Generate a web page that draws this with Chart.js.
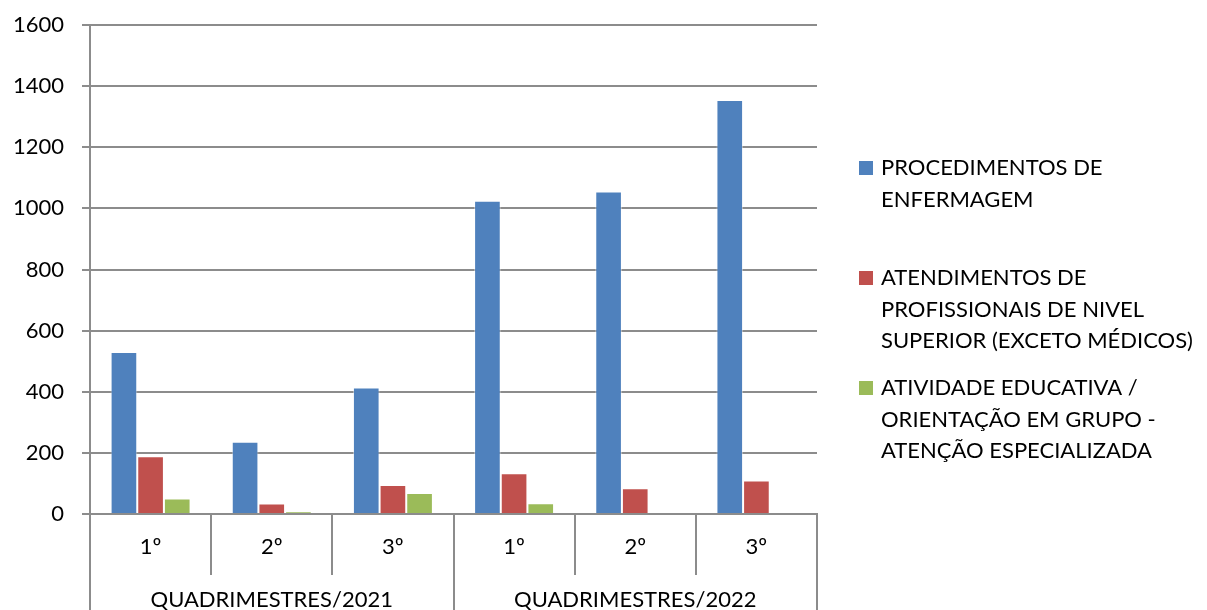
<!DOCTYPE html>
<html>
<head>
<meta charset="utf-8">
<script src="https://cdn.jsdelivr.net/npm/chart.js@4/dist/chart.umd.min.js"></script>
<style>
  html, body { margin: 0; padding: 0; background: #fff; }
  #wrap { width: 1207px; height: 610px; position: relative; }
</style>
</head>
<body>
<div id="wrap"><canvas id="chart"></canvas></div>
<script>
// ===== DATA =====
const quarters = ['1º', '2º', '3º', '1º', '2º', '3º'];
const groups = ['QUADRIMESTRES/2021', 'QUADRIMESTRES/2022'];
const groupSize = 3;

const enfermagem = [530, 236, 414, 1025, 1055, 1355];
const nivelSuperior = [189, 34, 95, 133, 84, 110];
const atividadeEducativa = [51, 8, 69, 35, 0, 0];

const seriesLabels = [
    ['PROCEDIMENTOS DE', 'ENFERMAGEM'],
    ['ATENDIMENTOS DE', 'PROFISSIONAIS DE NIVEL', 'SUPERIOR (EXCETO MÉDICOS)'],
    ['ATIVIDADE EDUCATIVA /', 'ORIENTAÇÃO EM GRUPO -', 'ATENÇÃO ESPECIALIZADA']
];
const seriesColors = ['#4F81BD', '#C0504D', '#9BBB59'];
const yTicks = [0, 200, 400, 600, 800, 1000, 1200, 1400, 1600];

const FONT = 'Lato, "Open Sans", sans-serif';
const FONT_SIZE = 22;
const AXIS_GREY = '#8c8c8c';

// ===== AXIS + LEGEND DRAWING =====
const excelAxis = {
    id: 'excelAxis',
    afterDraw(chart) {
        const ctx = chart.ctx;
        const area = chart.chartArea;
        const x = chart.scales.x;
        const bottom = chart.height;
        const n = quarters.length;
        const half = (x.getPixelForValue(1) - x.getPixelForValue(0)) / 2;

        ctx.save();
        ctx.strokeStyle = AXIS_GREY;
        ctx.lineWidth = 2;

        // category separators (short ones between quarters, full ones between years)
        for (let i = 0; i <= n; i++) {
            const px = Math.round(i < n ? x.getPixelForValue(i) - half : x.getPixelForValue(n - 1) + half);
            const full = (i % groupSize === 0);
            ctx.beginPath();
            ctx.moveTo(px, area.bottom);
            ctx.lineTo(px, full ? bottom : area.bottom + 61);
            ctx.stroke();
        }
        // left axis continues down
        ctx.beginPath();
        ctx.moveTo(area.left, area.top);
        ctx.lineTo(area.left, bottom);
        ctx.stroke();

        // group labels
        ctx.fillStyle = '#000';
        ctx.font = FONT_SIZE + 'px ' + FONT;
        ctx.textAlign = 'center';
        ctx.textBaseline = 'middle';
        groups.forEach((g, gi) => {
            const first = x.getPixelForValue(gi * groupSize);
            const last = x.getPixelForValue(gi * groupSize + groupSize - 1);
            ctx.fillText(g, (first + last) / 2, 600);
        });

        // legend
        ctx.textAlign = 'left';
        chart.data.datasets.forEach((ds, i) => {
            const y0 = 168 + i * 110;
            ctx.fillStyle = ds.backgroundColor;
            ctx.fillRect(859, y0 - 7, 14, 14);
            ctx.fillStyle = '#000';
            seriesLabels[i].forEach((line, li) => {
                ctx.fillText(line, 881, y0 + li * 31.5);
            });
        });
        ctx.restore();
    }
};

function createChart() {
    const ctx = document.getElementById('chart');
    new Chart(ctx, {
        type: 'bar',
        data: {
            labels: quarters,
            datasets: [
                { label: seriesLabels[0].join(' '), data: enfermagem, backgroundColor: seriesColors[0] },
                { label: seriesLabels[1].join(' '), data: nivelSuperior, backgroundColor: seriesColors[1] },
                { label: seriesLabels[2].join(' '), data: atividadeEducativa, backgroundColor: seriesColors[2] }
            ].map(ds => Object.assign(ds, {
                borderColor: 'rgba(255,255,255,0.45)',
                borderWidth: 1,
                barPercentage: 1.0,
                categoryPercentage: 0.66
            }))
        },
        options: {
            responsive: true,
            maintainAspectRatio: false,
            animation: false,
            layout: { padding: { top: 25, right: 390, left: 0, bottom: 0 } },
            plugins: {
                legend: { display: false },
                tooltip: { enabled: false }
            },
            scales: {
                x: {
                    grid: { display: false },
                    border: { display: true, color: AXIS_GREY, width: 2 },
                    ticks: {
                        color: '#000',
                        font: { family: FONT, size: FONT_SIZE },
                        padding: 12,
                        maxRotation: 0
                    },
                    afterFit(scale) { scale.height = 96; }
                },
                y: {
                    min: 0,
                    max: 1600,
                    afterBuildTicks(scale) { scale.ticks = yTicks.map(v => ({ value: v })); },
                    grid: {
                        color: AXIS_GREY,
                        lineWidth: 2,
                        tickLength: 8
                    },
                    border: { display: true, color: AXIS_GREY, width: 2 },
                    ticks: {
                        color: '#000',
                        font: { family: FONT, size: FONT_SIZE },
                        padding: 18,
                        callback: v => String(v)
                    },
                    afterFit(scale) {
                        scale.width = 90;
                        scale.paddingTop = 0;
                        scale.paddingBottom = 0;
                    }
                }
            }
        },
        plugins: [excelAxis]
    });
}

createChart();
</script>
</body>
</html>
